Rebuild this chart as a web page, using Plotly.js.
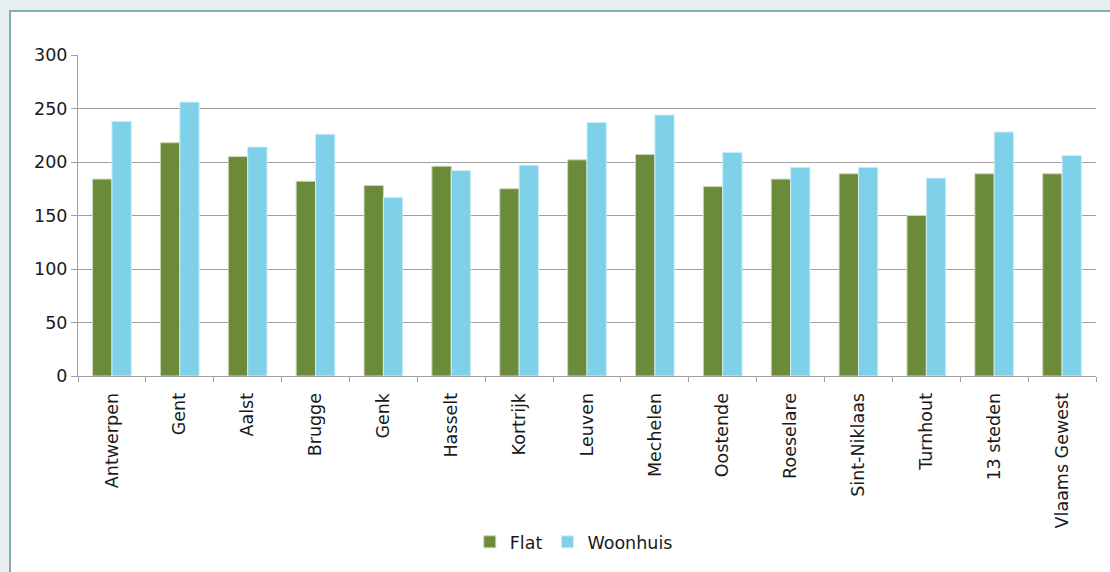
<!DOCTYPE html>
<html>
<head>
<meta charset="utf-8">
<script src="https://cdn.plot.ly/plotly-3.0.1.min.js"></script>
<style>
  html, body { margin: 0; padding: 0; background: #e9eef1; width: 1110px; height: 572px; overflow: hidden; }
  #panel { position: absolute; left: 9px; top: 10px; width: 1120px; height: 600px; background: #ffffff; border-left: 2px solid #7eaabb; border-top: 2px solid #7eaabb; }
  #chart { position: absolute; left: 0; top: 0; width: 1110px; height: 572px; }
</style>
</head>
<body>
<div id="panel"></div>
<div id="chart"></div>
<script>
const categories = ["Antwerpen", "Gent", "Aalst", "Brugge", "Genk", "Hasselt", "Kortrijk", "Leuven", "Mechelen", "Oostende", "Roeselare", "Sint-Niklaas", "Turnhout", "13 steden", "Vlaams Gewest"];
const flat = [184, 218, 205, 182, 178, 196, 175, 202, 207, 177, 184, 189, 150, 189, 189];
const woonhuis = [238, 256, 214, 226, 167, 192, 197, 237, 244, 209, 195, 195, 185, 228, 206];
const yTicks = [0, 50, 100, 150, 200, 250, 300];

const font = { family: "DejaVu Sans, sans-serif", size: 17.5, color: "#1a1a1a" };

const traces = [
  { type: "bar", name: "Flat", x: categories, y: flat,
    marker: { color: "#6b8a3a", line: { color: "#c9d6b8", width: 1 } } },
  { type: "bar", name: "Woonhuis", x: categories, y: woonhuis,
    marker: { color: "#7fd1ea", line: { color: "#cdeef8", width: 1 } } }
];

const layout = {
  width: 1110, height: 572,
  paper_bgcolor: "rgba(0,0,0,0)", plot_bgcolor: "rgba(0,0,0,0)",
  margin: { l: 78, r: 14, t: 55, b: 196 },
  font: font,
  barmode: "group", bargap: 0.43, bargroupgap: 0,
  showlegend: true,
  legend: { orientation: "h", x: 0.487, xanchor: "center", y: -0.517, yanchor: "middle",
            font: font, itemwidth: 30, traceorder: "normal" },
  xaxis: { type: "category", tickangle: -90, tickson: "boundaries", ticks: "outside", ticklen: 5,
           tickcolor: "#a0a0a0", showline: true, linecolor: "#a0a0a0", linewidth: 1,
           showgrid: false, tickfont: font, automargin: false, ticklabelstandoff: 9 },
  yaxis: { range: [0, 300], tickvals: yTicks, ticktext: yTicks.map(String), ticks: "outside", ticklen: 6,
           tickcolor: "#a0a0a0", showline: true, linecolor: "#a0a0a0", linewidth: 1,
           showgrid: true, gridcolor: "#a0a0a0", gridwidth: 1, zeroline: false,
           tickfont: font, automargin: false }
};

Plotly.newPlot("chart", traces, layout, { displayModeBar: false, staticPlot: true });
</script>
</body>
</html>
